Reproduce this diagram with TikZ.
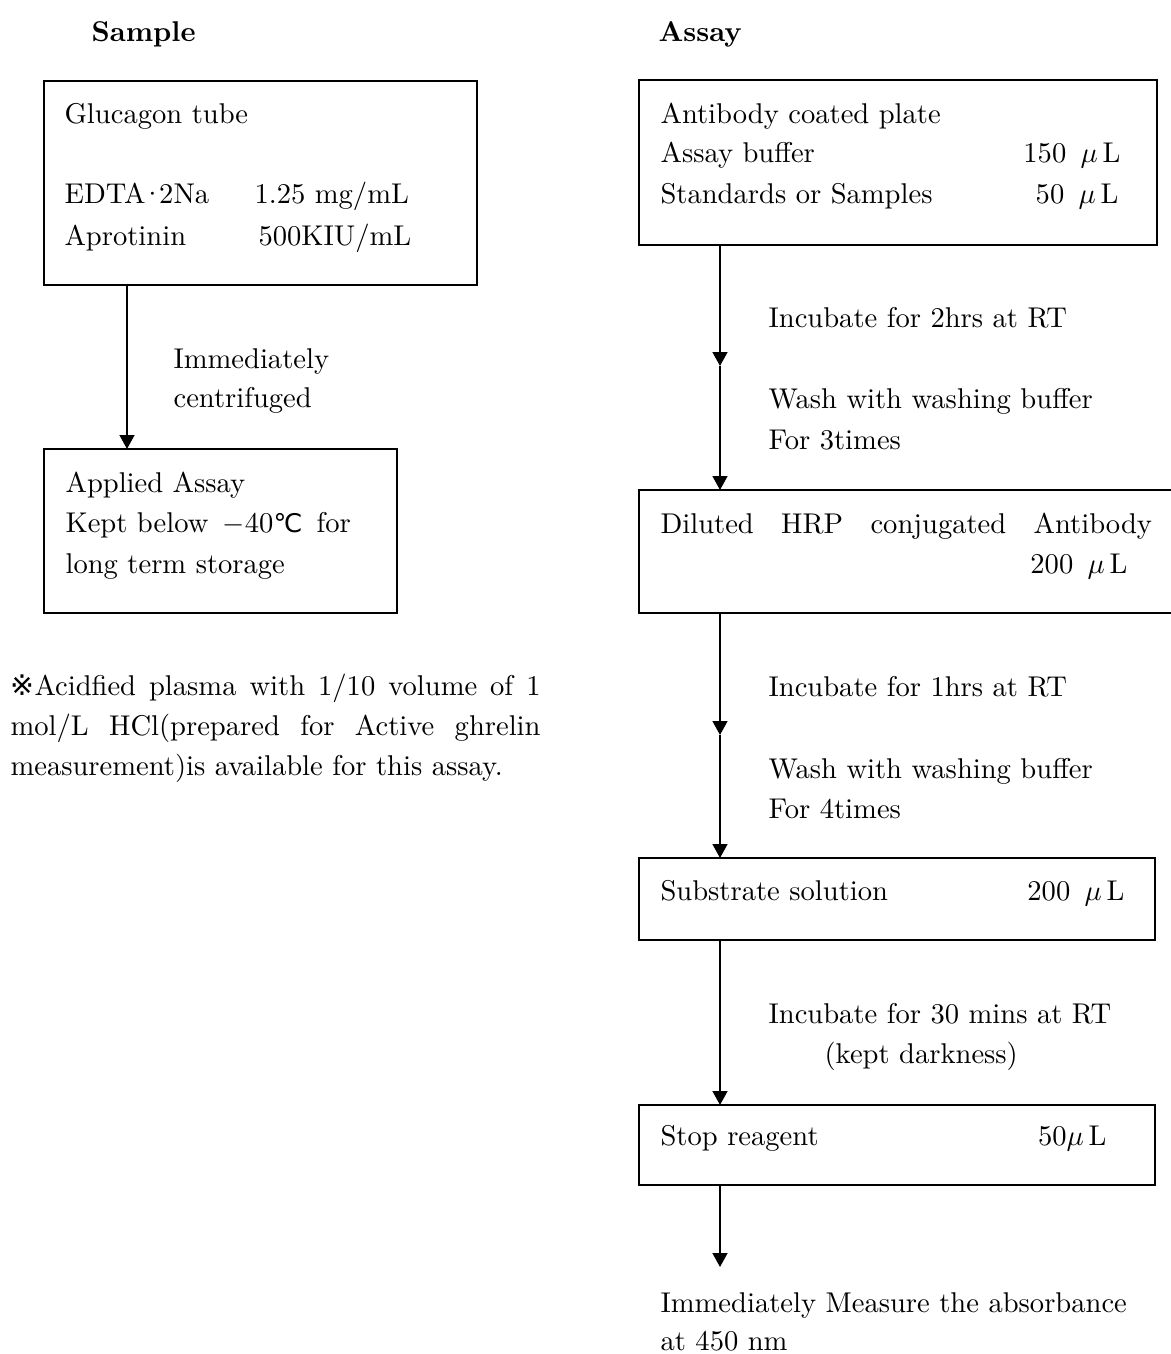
\documentclass[tikz,border=0pt]{standalone}
\usepackage{fontspec}
\newfontfamily\dejavu{DejaVu Sans}
\usetikzlibrary{arrows.meta,calc,fit}

\tikzset{
  box/.style={draw, line width=0.7pt, inner sep=0pt, outer sep=0pt},
  flow/.style={line width=0.7pt, -{Triangle[width=5.2pt,length=4.9pt]}},
  txt/.style={anchor=base west, inner sep=0pt},
  val/.style={anchor=base east, inner sep=0pt},
  head/.style={txt, font=\bfseries},
}

\begin{document}
\begin{tikzpicture}[x=0.35pt,y=-0.35pt]
  \useasboundingbox (0,0) rectangle (1170,1354);
  % Column headings
  \node[head] (samplehead) at (91,41) {Sample};
  \node[head] (assayhead) at (658,41) {Assay};

  % Sample side
  \node[box, fit={(44,81) (477,285)}] (tube) {};
  \node[txt] (tubename) at (64,123) {Glucagon tube};
  \node[txt] (edta) at (64,203) {EDTA\kern-1.5pt·\kern-1.5pt2Na};
  \node[txt] (edtaval) at (254,203) {1.25 mg/mL};
  \node[txt] (apro) at (64,245) {Aprotinin};
  \node[txt] (aproval) at (258,245) {500KIU/mL};

  \node[box, fit={(44,449) (397,613)}] (stored) {};
  \node[txt] (stored1) at (65,492) {Applied Assay};
  \node[txt] (stored2) at (65,532) {Kept below\enspace$-$40{\dejavu\small ℃}\enspace for};
  \node[txt] (stored3) at (65,573) {long term storage};

  \draw[flow] ($(tube.south west)+(83,0)$) -- ($(stored.north west)+(83,0)$);
  \node[txt] (spin1) at (173,368) {Immediately};
  \node[txt] (spin2) at (173,407) {centrifuged};

  % Footnote, justified
  \node[txt] (note1) at (10,695) {\makebox[185.5pt][s]{{\dejavu ※}Acidfied plasma with 1/10 volume of 1}};
  \node[txt] (note2) at (10,735) {\makebox[185.5pt][s]{mol/L HCl(prepared for Active ghrelin}};
  \node[txt] (note3) at (10,775) {measurement)is available for this assay.};

  % Assay side
  \node[box, fit={(639,80) (1157,245)}] (plate) {};
  \node[txt] (plate1) at (660,123) {Antibody coated plate};
  \node[txt] (plate2) at (660,162) {Assay buffer};
  \node[val] (plate2v) at (1121,162) {150\enspace$\mu$\,L};
  \node[txt] (plate3) at (660,203) {Standards or Samples};
  \node[val] (plate3v) at (1119,203) {50\enspace$\mu$\,L};

  \node[box, fit={(639,490) (1180,613)}] (diluted) {};
  \node[txt] (diluted1) at (660,533) {\makebox[172pt][s]{Diluted HRP conjugated Antibody}};
  \node[val] (diluted2) at (1128,573) {200\enspace$\mu$\,L};

  \node[box, fit={(639,858) (1155,940)}] (substrate) {};
  \node[txt] (substrate1) at (660,900) {Substrate solution};
  \node[val] (substratev) at (1125,900) {200\enspace$\mu$\,L};

  \node[box, fit={(639,1105) (1155,1185)}] (stopper) {};
  \node[txt] (stopper1) at (660,1145) {Stop reagent};
  \node[val] (stopperv) at (1107,1145) {50$\mu$\,L};

  % Connectors with a half-way arrowhead
  \coordinate (mid1) at (720,366);
  \coordinate (mid2) at (720,735);
  \coordinate (readout) at (720,1267);
  \draw[flow] ($(plate.south west)+(81,0)$) -- (mid1);
  \draw[flow] (mid1) -- ($(diluted.north west)+(81,0)$);
  \draw[flow] ($(diluted.south west)+(81,0)$) -- (mid2);
  \draw[flow] (mid2) -- ($(substrate.north west)+(81,0)$);
  \draw[flow] ($(substrate.south west)+(81,0)$) -- ($(stopper.north west)+(81,0)$);
  \draw[flow] ($(stopper.south west)+(81,0)$) -- (readout);

  % Step notes
  \node[txt] (inc1) at (768,327) {Incubate for 2hrs at RT};
  \node[txt] (wash1) at (768,408) {Wash with washing buffer};
  \node[txt] (wash1b) at (768,449) {For 3times};
  \node[txt] (inc2) at (768,696) {Incubate for 1hrs at RT};
  \node[txt] (wash2) at (768,778) {Wash with washing buffer};
  \node[txt] (wash2b) at (768,818) {For 4times};
  \node[txt] (inc3) at (768,1023) {Incubate for 30 mins at RT};
  \node[txt] (inc3b) at (824,1063) {(kept darkness)};
  \node[txt] (measure1) at (660,1312) {Immediately Measure the absorbance};
  \node[txt] (measure2) at (660,1350) {at 450 nm};
\end{tikzpicture}
\end{document}
